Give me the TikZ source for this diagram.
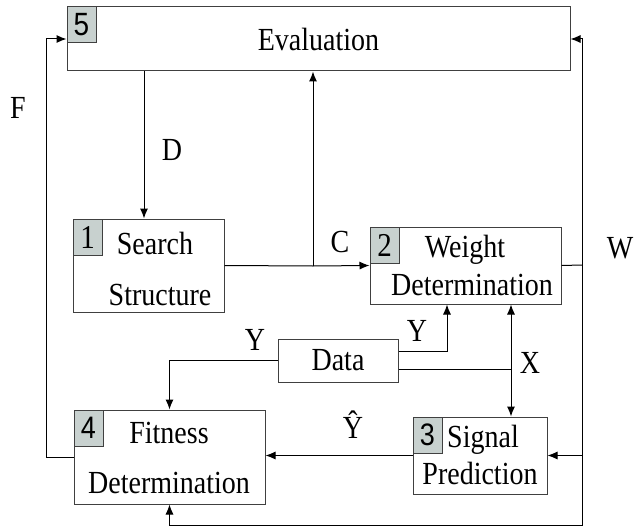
\documentclass[tikz,border=0pt]{standalone}
\usepackage{fontspec}
\usepackage{graphicx}
\setmainfont{Liberation Serif}
\newfontfamily\numfont{Liberation Sans}
\usetikzlibrary{arrows.meta,calc,positioning}
\definecolor{numgray}{RGB}{200,209,207}
\newcommand{\tallt}[1]{\scalebox{1}[1.15]{#1}}

\begin{document}
\begin{tikzpicture}[x=1pt,y=-1pt,line width=1pt,
    box/.style={draw=black!75,inner sep=0pt},
    num/.style={draw=black!75,fill=numgray,inner sep=0pt,minimum width=29pt,
      minimum height=36pt,font=\fontsize{29}{30}\selectfont},
    txt/.style={inner sep=0pt,font=\fontsize{28}{30}\selectfont},
    arr/.style={->,>={Latex[length=10pt,width=8pt]}},
    arrb/.style={<->,>={Latex[length=10pt,width=8pt]}}]
        \useasboundingbox (0,0) rectangle (640,527);
        %%%%%%%%%%%%%%%%%%%%%%%%%%%boxes%%%%%%%%%%%%%%%%%%%%%%
          \node[box,minimum width=503pt,minimum height=64pt] (eval) at (318.5,39) {};
          \node[box,minimum width=151pt,minimum height=93pt] (search) at (148.5,265.5) {};
          \node[box,minimum width=191pt,minimum height=77pt] (weight) at (465.5,265.5) {};
          \node[box,minimum width=120pt,minimum height=43pt] (data) at (338,360.5) {};
          \node[box,minimum width=134pt,minimum height=77pt] (signal) at (480,455.5) {};
          \node[box,minimum width=191pt,minimum height=94pt] (fitness) at (169.5,457) {};

          \node[num,anchor=north west,font=\numfont\fontsize{28}{30}\selectfont] (n5) at (eval.north west) {\tallt{5}};
          \node[num,anchor=north west] (n1) at (search.north west) {\tallt{1}};
          \node[num,anchor=north west] (n2) at (weight.north west) {\tallt{2}};
          \node[num,anchor=north west,font=\numfont\fontsize{27}{30}\selectfont] (n3) at (signal.north west) {\tallt{3}};
          \node[num,anchor=north west,font=\numfont\fontsize{27}{30}\selectfont] (n4) at (fitness.north west) {\tallt{4}};

          \node[txt] (tEval) at (eval) {\tallt{Evaluation}};
          \node[txt] (tSearch) at (155,243) {\tallt{Search}};
          \node[txt] (tStruct) at (160,295) {\tallt{Structure}};
          \node[txt] (tWeight) at (465,250) {\tallt{Weight}};
          \node[txt] (tWdet) at (472,285) {\tallt{Determination}};
          \node[txt] (tData) at (data) {\tallt{Data}};
          \node[txt] (tSignal) at (483,440) {\tallt{Signal}};
          \node[txt] (tPred) at (480,473) {\tallt{Prediction}};
          \node[txt] (tFit) at (169,433) {\tallt{Fitness}};
          \node[txt] (tFdet) at (169,483) {\tallt{Determination}};

        %%%%%%%%%%%%%%%%%%%%%%%%%%%joints%%%%%%%%%%%%%%%%%%%%%%
          \coordinate (dj) at (144,71);
          \coordinate (cj) at (313,266);
          \coordinate (wj) at (582,265);
          \coordinate (wb) at (582,525);
          \coordinate (fl) at (46,457);
          \coordinate (xj) at (511,369);

        %%%%%%%%%%%%%%%%%%%%%%%%%%%arrows%%%%%%%%%%%%%%%%%%%%%%
          \draw[arr] (dj) -- (dj |- search.north);
          \draw (search.east) -- (cj);
          \draw[arr] (cj) -- (cj |- eval.south);
          \draw[arr] (cj) -- (weight.west);

          \draw (weight.east) -- (wj);
          \draw[arr] (wj) |- (eval.east);
          \draw[arr] (wj) |- (signal.east);
          \draw[arr] (wj) -- (wb) -| (fitness.south);

          \draw[arr] (fitness.west) -- (fl) |- (eval.west);

          \draw[arr] ([yshift=9.5pt]data.east) -| ([xshift=-18.5pt]weight.south);
          \draw ([yshift=-8.5pt]data.east) -- (xj);
          \draw[arrb] (xj |- weight.south) -- (xj |- signal.north);
          \draw[arr] (data.west) -| (fitness.north);
          \draw[arr] (signal.west) -- (fitness.east |- signal.west);

        %%%%%%%%%%%%%%%%%%%%%%%%%%%labels%%%%%%%%%%%%%%%%%%%%%%
          \node[txt] (lF) at (18,108) {\tallt{F}};
          \node[txt] (lD) at (172,150) {\tallt{D}};
          \node[txt] (lC) at (340,242) {\tallt{C}};
          \node[txt] (lW) at (620,248) {\tallt{W}};
          \node[txt] (lYl) at (255,340) {\tallt{Y}};
          \node[txt] (lYr) at (417,331) {\tallt{Y}};
          \node[txt] (lX) at (530,363) {\tallt{X}};
          \node[txt] (lYh) at (353,425) {\tallt{\^{Y}}};
        \end{tikzpicture}
\end{document}
